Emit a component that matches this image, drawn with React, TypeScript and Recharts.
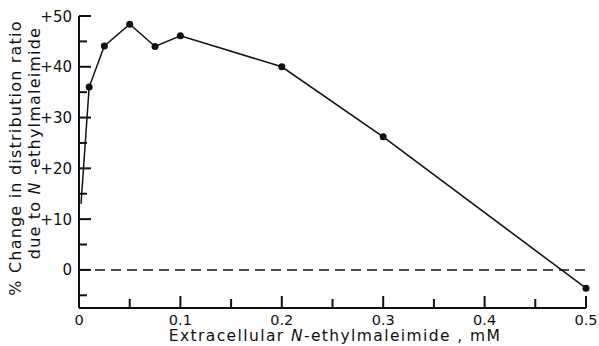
import React from "react";
import { LineChart, Line, XAxis, YAxis, ReferenceLine } from "recharts";

const concentration = [0.002, 0.01, 0.025, 0.05, 0.075, 0.1, 0.2, 0.3, 0.5];
const percentChange = [13, 36, 44.1, 48.4, 44, 46.1, 40, 26.2, -3.6];
const xTicks = [0, 0.05, 0.1, 0.15, 0.2, 0.25, 0.3, 0.35, 0.4, 0.45, 0.5];
const xTickLabels = ["0", "", "0.1", "", "0.2", "", "0.3", "", "0.4", "", "0.5"];
const yTicks = [-5, 0, 5, 10, 15, 20, 25, 30, 35, 40, 45, 50];
const yTickLabels = ["", "0", "", "+10", "", "+20", "", "+30", "", "+40", "", "+50"];

const data = concentration.map((c, i) => ({ x: c, y: percentChange[i] }));

const FONT = "DejaVu Sans, sans-serif";
const INK = "#111";

const XTick = (props: any) => {
  const { x, y, payload, index } = props;
  const label = xTickLabels[index] ?? "";
  const major = label !== "";
  return (
    <g>
      {payload.value > 0 && (
        <line x1={x} y1={y} x2={x} y2={y - (major ? 12 : 9)} stroke={INK} strokeWidth={2} />
      )}
      <text x={x} y={y + 16.5} textAnchor="middle" fontFamily={FONT} fontSize={14.5} fill={INK}>
        {label}
      </text>
    </g>
  );
};

const YTick = (props: any) => {
  const { x, y, index } = props;
  const label = yTickLabels[index] ?? "";
  const major = label !== "";
  return (
    <g>
      <line x1={x} y1={y} x2={x + (major ? 12 : 8)} y2={y} stroke={INK} strokeWidth={2} />
      <text x={x - 7} y={y + 5.5} textAnchor="end" fontFamily={FONT} fontSize={15} fill={INK}>
        {label}
      </text>
    </g>
  );
};

const Dot = (props: any) => {
  const { cx, cy, index } = props;
  if (index === 0) return <g key={index} />;
  return <circle key={index} cx={cx} cy={cy} r={3.5} fill={INK} />;
};

const YLabel = () => (
  <g fontFamily={FONT} fontSize={16} fill={INK} letterSpacing={1.2}>
    <text x={21} y={158} textAnchor="middle" transform="rotate(-90 21 158)">
      % Change in distribution ratio
    </text>
    <text x={40} y={143} textAnchor="middle" transform="rotate(-90 40 143)">
      due to <tspan fontStyle="italic">N</tspan> -ethylmaleimide
    </text>
  </g>
);

const XLabel = () => (
  <text
    x={335}
    y={341}
    textAnchor="middle"
    fontFamily={FONT}
    fontSize={15.5}
    fill={INK}
    letterSpacing={1.4}
  >
    Extracellular <tspan fontStyle="italic">N</tspan>-ethylmaleimide , mM
  </text>
);

export default function App() {
  return (
    <div style={{ position: "absolute", left: 0, top: 0, background: "#fff" }}>
      <LineChart
        width={599}
        height={346}
        data={data}
        margin={{ top: 16, right: 13, left: 20, bottom: 0 }}
      >
        <XAxis
          dataKey="x"
          type="number"
          domain={[0, 0.5]}
          ticks={xTicks}
          tickSize={0}
          tickMargin={0}
          tickLine={false}
          axisLine={{ stroke: INK, strokeWidth: 2 }}
          tick={<XTick />}
          height={38}
          interval={0}
          label={<XLabel />}
        />
        <YAxis
          type="number"
          domain={[-7.5, 50]}
          ticks={yTicks}
          tickSize={0}
          tickMargin={0}
          tickLine={false}
          axisLine={{ stroke: INK, strokeWidth: 2 }}
          tick={<YTick />}
          width={59}
          interval={0}
          allowDataOverflow
          label={<YLabel />}
        />
        <ReferenceLine y={0} stroke={INK} strokeWidth={1.5} strokeDasharray="10 6" />
        <Line
          type="linear"
          dataKey="y"
          stroke={INK}
          strokeWidth={1.5}
          dot={<Dot />}
          activeDot={false}
          isAnimationActive={false}
        />
      </LineChart>
    </div>
  );
}
